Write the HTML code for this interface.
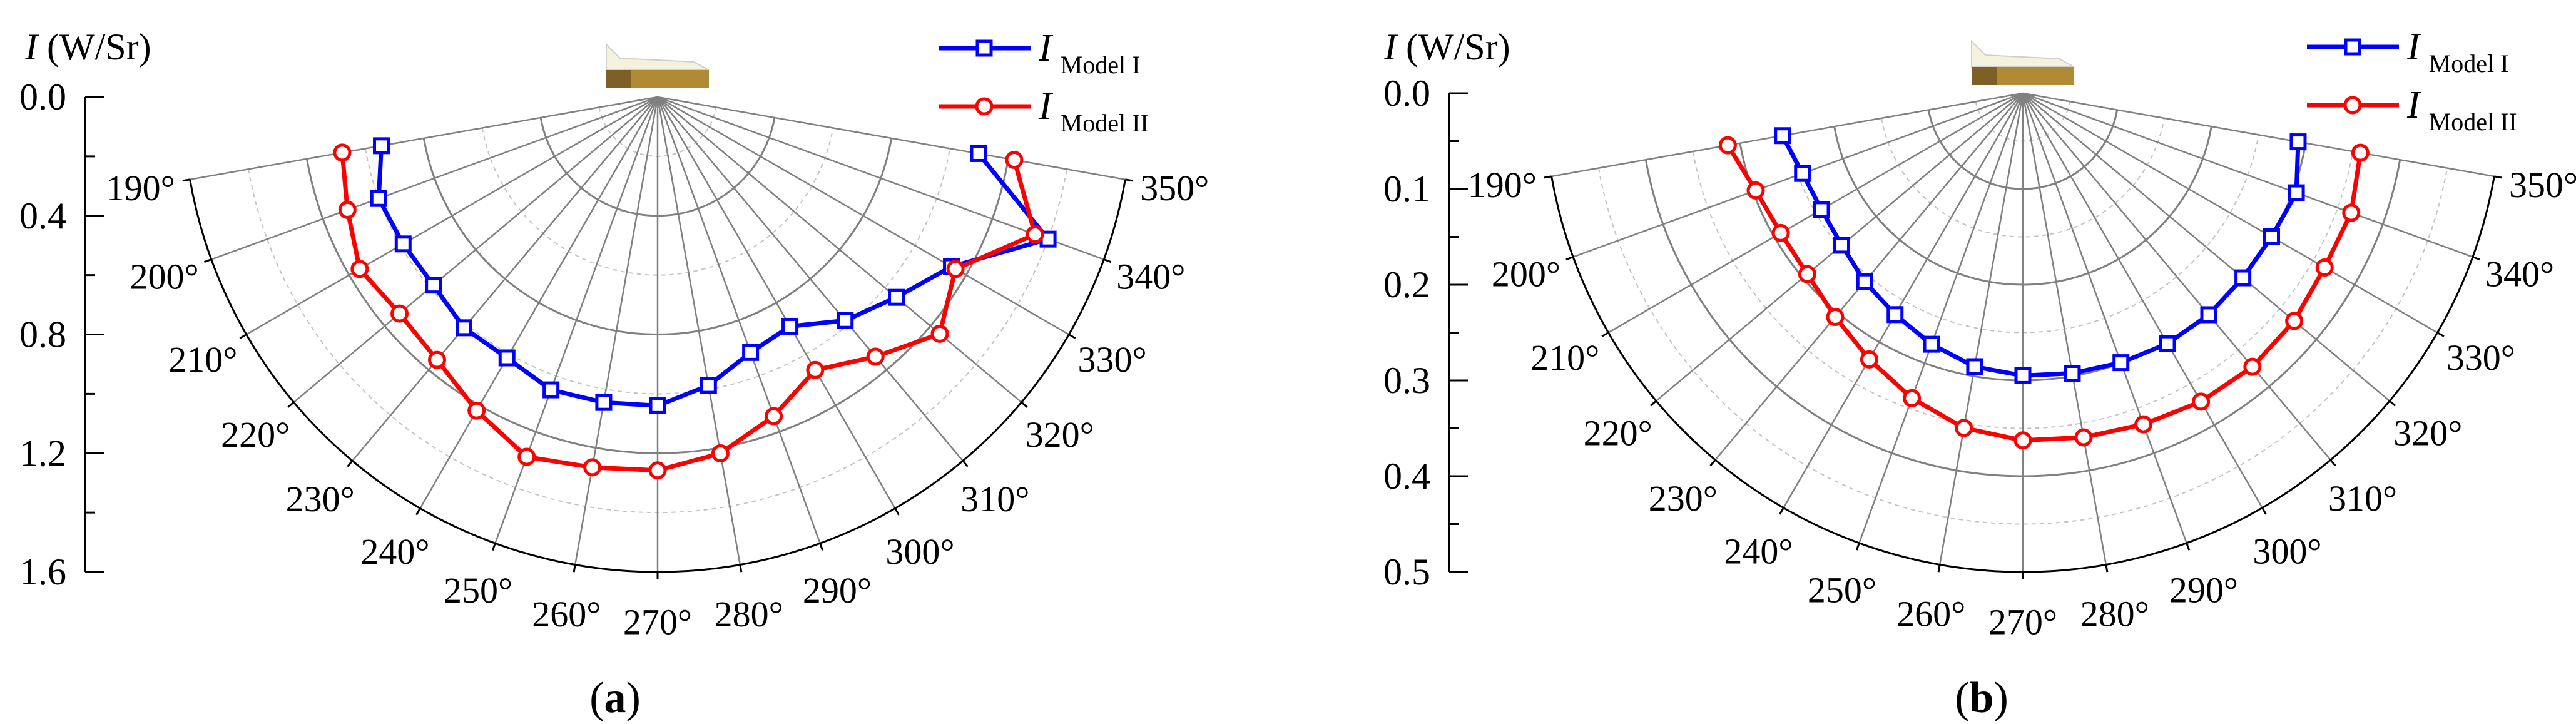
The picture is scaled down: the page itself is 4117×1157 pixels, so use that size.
<!DOCTYPE html>
<html>
<head>
<meta charset="utf-8">
<style>
html,body{margin:0;padding:0;background:#fff;}
svg{display:block;}
svg text{font-family:"Liberation Serif","Times New Roman",serif;}
</style>
</head>
<body>
<svg id="fig" width="4117" height="1157" viewBox="0 0 4117 1157" xmlns="http://www.w3.org/2000/svg" font-family="Liberation Serif, serif"></svg>
<script>
const angles = [190,200,210,220,230,240,250,260,270,280,290,300,310,320,330,340,350];
const aModel1 = [0.945,1.0,0.99,0.986,1.015,1.015,1.05,1.045,1.04,0.987,0.916,0.892,0.983,1.05,1.143,1.40,1.098];
const aModel2 = [1.079,1.112,1.159,1.135,1.156,1.22,1.29,1.267,1.258,1.219,1.144,1.062,1.142,1.241,1.159,1.353,1.22];
const bModel1 = [0.255,0.245,0.243,0.247,0.257,0.267,0.279,0.290,0.295,0.297,0.2995,0.302,0.302,0.300,0.300,0.304,0.292];
const bModel2 = [0.313,0.297,0.292,0.294,0.305,0.321,0.339,0.355,0.3626,0.365,0.368,0.372,0.373,0.370,0.364,0.365,0.358];
const aTickLabels = ["0.0","0.4","0.8","1.2","1.6"];
const bTickLabels = ["0.0","0.1","0.2","0.3","0.4","0.5"];

const NS = "http://www.w3.org/2000/svg";
const FONT = "Liberation Serif, Times New Roman, serif";
const svg = document.getElementById('fig');
function el(tag, attrs, parent){
  const e = document.createElementNS(NS, tag);
  for (const k in attrs) e.setAttribute(k, attrs[k]);
  if (tag==='text') e.setAttribute('font-family', FONT);
  (parent||svg).appendChild(e);
  return e;
}

function drawPanel(p){
  const g = el('g', {});
  
  
  const cx=p.cx, cy=p.cy, R=p.R, max=p.max;
  const rr = v => v/max*R;
  const pt = (deg, r) => [cx + r*Math.cos(deg*Math.PI/180), cy - r*Math.sin(deg*Math.PI/180)];
  const a0 = angles[0], a1 = angles[angles.length-1];
  function arc(r){
    const s = pt(a0, r), e = pt(a1, r);
    return `M${s[0]},${s[1]} A${r},${r} 0 0 0 ${e[0]},${e[1]}`;
  }
  const n = Math.round(max/p.minor);
  for (let i=1;i<n;i++){
    const v = i*p.minor;
    const major = Math.abs(v/p.major - Math.round(v/p.major))<1e-6;
    const a = el('path', {d:arc(rr(v)), fill:'none', stroke: major?'#808080':'#c4c4c4', 'stroke-width': major?3:2, 'stroke-dasharray': major?'none':'7,6'}, g);
    
    
  }
  angles.forEach(d=>{
    const e = pt(d, R);
    const s = el('line', {x1:cx,y1:cy,x2:e[0],y2:e[1],stroke:'#808080','stroke-width':2.5}, g);
    
    
    const t0 = pt(d, R), t1 = pt(d, R+12);
    const tk = el('line', {x1:t0[0],y1:t0[1],x2:t1[0],y2:t1[1],stroke:'#000','stroke-width':3}, g);
    
    
    const lp = pt(d, R+80);
    const t = el('text', {x:lp[0], y:lp[1], 'font-size':58, 'text-anchor':'middle', 'dominant-baseline':'central', fill:'#000'}, g);
    t.textContent = d + '°';
    
    
  });
  const outer = el('path', {d:arc(R), fill:'none', stroke:'#000','stroke-width':3}, g);
  
  
  const ax = el('line', {x1:p.axX,y1:cy,x2:p.axX,y2:cy+R,stroke:'#000','stroke-width':3}, g);
  
  
  for (let i=0;i<=n;i++){
    const v=i*p.minor, y=cy+rr(v);
    const major = Math.abs(v/p.major - Math.round(v/p.major))<1e-6;
    const tk = el('line', {x1:p.axX,y1:y,x2:p.axX+(major?30:16),y2:y,stroke:'#000','stroke-width':3}, g);
    
    
  }
  p.labels.forEach((lab,i)=>{
    const y = cy + rr(i*p.major);
    const t = el('text', {x:p.axX-30, y:y, 'font-size':60, 'text-anchor':'end', 'dominant-baseline':'central'}, g);
    t.textContent = lab;
    
    
  });
  const title = el('text', {x:p.titleX, y:95, 'font-size':60}, g);
  title.innerHTML = '<tspan font-style="italic">I</tspan> (W/Sr)';
  
  
  function series(vals, color, shape, name){
    const sg = el('g', {}, g);
    
    
    const pts = vals.map((v,i)=>pt(angles[i], rr(v)));
    const line = el('polyline', {points: pts.map(q=>q.join(',')).join(' '), fill:'none', stroke:color, 'stroke-width':7, 'stroke-linejoin':'round'}, sg);
    
    
    pts.forEach(q=>{
      let m;
      if (shape==='square') m = el('rect', {x:q[0]-11,y:q[1]-11,width:22,height:22,fill:'#fff',stroke:color,'stroke-width':5}, sg);
      else m = el('circle', {cx:q[0],cy:q[1],r:12,fill:'#fff',stroke:color,'stroke-width':5}, sg);
      
      
    });
  }
  series(p.s1, '#0000ff', 'square', 'series-model-i');
  series(p.s2, '#ff0000', 'circle', 'series-model-ii');
  const lg = el('g', {}, g);
  
  
  [[p.legY, '#0000ff','square','Model I'],[p.legY+93,'#ff0000','circle','Model II']].forEach(([y,c,sh,lab])=>{
    const l = el('line', {x1:p.legX,y1:y,x2:p.legX+147,y2:y,stroke:c,'stroke-width':7}, lg);
    
    
    const mx = p.legX+73;
    let m;
    if (sh==='square') m = el('rect', {x:mx-11,y:y-11,width:22,height:22,fill:'#fff',stroke:c,'stroke-width':5}, lg);
    else m = el('circle', {cx:mx,cy:y,r:12,fill:'#fff',stroke:c,'stroke-width':5}, lg);
    
    
    const t = el('text', {x:p.legX+160, y:y+20, 'font-size':62}, lg);
    t.innerHTML = '<tspan font-style="italic">I</tspan><tspan font-size="40" dx="14" dy="20">'+lab+'</tspan>';
    
    
  });
  const ig = el('g', {}, g);
  
  
  const ix = p.imgX, iy = p.imgY;
  el('path', {d:`M${ix},${iy} L${ix+22},${iy+22} L${ix+140},${iy+28} L${ix+164},${iy+41} L${ix},${iy+41} Z`, fill:'#f4f2dc', stroke:'#cfcfcf','stroke-width':2}, ig);
  el('rect', {x:ix, y:iy+41, width:164, height:29, fill:'#b08a35'}, ig);
  el('rect', {x:ix, y:iy+41, width:40, height:29, fill:'#7e5f25'}, ig);
  const pl = el('text', {x:p.capX, y:1138, 'font-size':70, 'text-anchor':'middle'}, g);
  pl.innerHTML = '(<tspan font-weight="bold">'+p.cap+'</tspan>)';
  
  
}

drawPanel({name:'panel-a', cx:1051, cy:155, R:759, max:1.6, major:0.4, minor:0.2, labels:aTickLabels,
  s1:aModel1, s2:aModel2, axX:136, titleX:40, legX:1500, legY:77, imgX:969, imgY:71, capX:983, cap:'a'});
drawPanel({name:'panel-b', cx:3233, cy:149, R:765, max:0.5, major:0.1, minor:0.05, labels:bTickLabels,
  s1:bModel1, s2:bModel2, axX:2316, titleX:2212, legX:3687, legY:75, imgX:3151, imgY:66, capX:3167, cap:'b'});
</script>
</body>
</html>
